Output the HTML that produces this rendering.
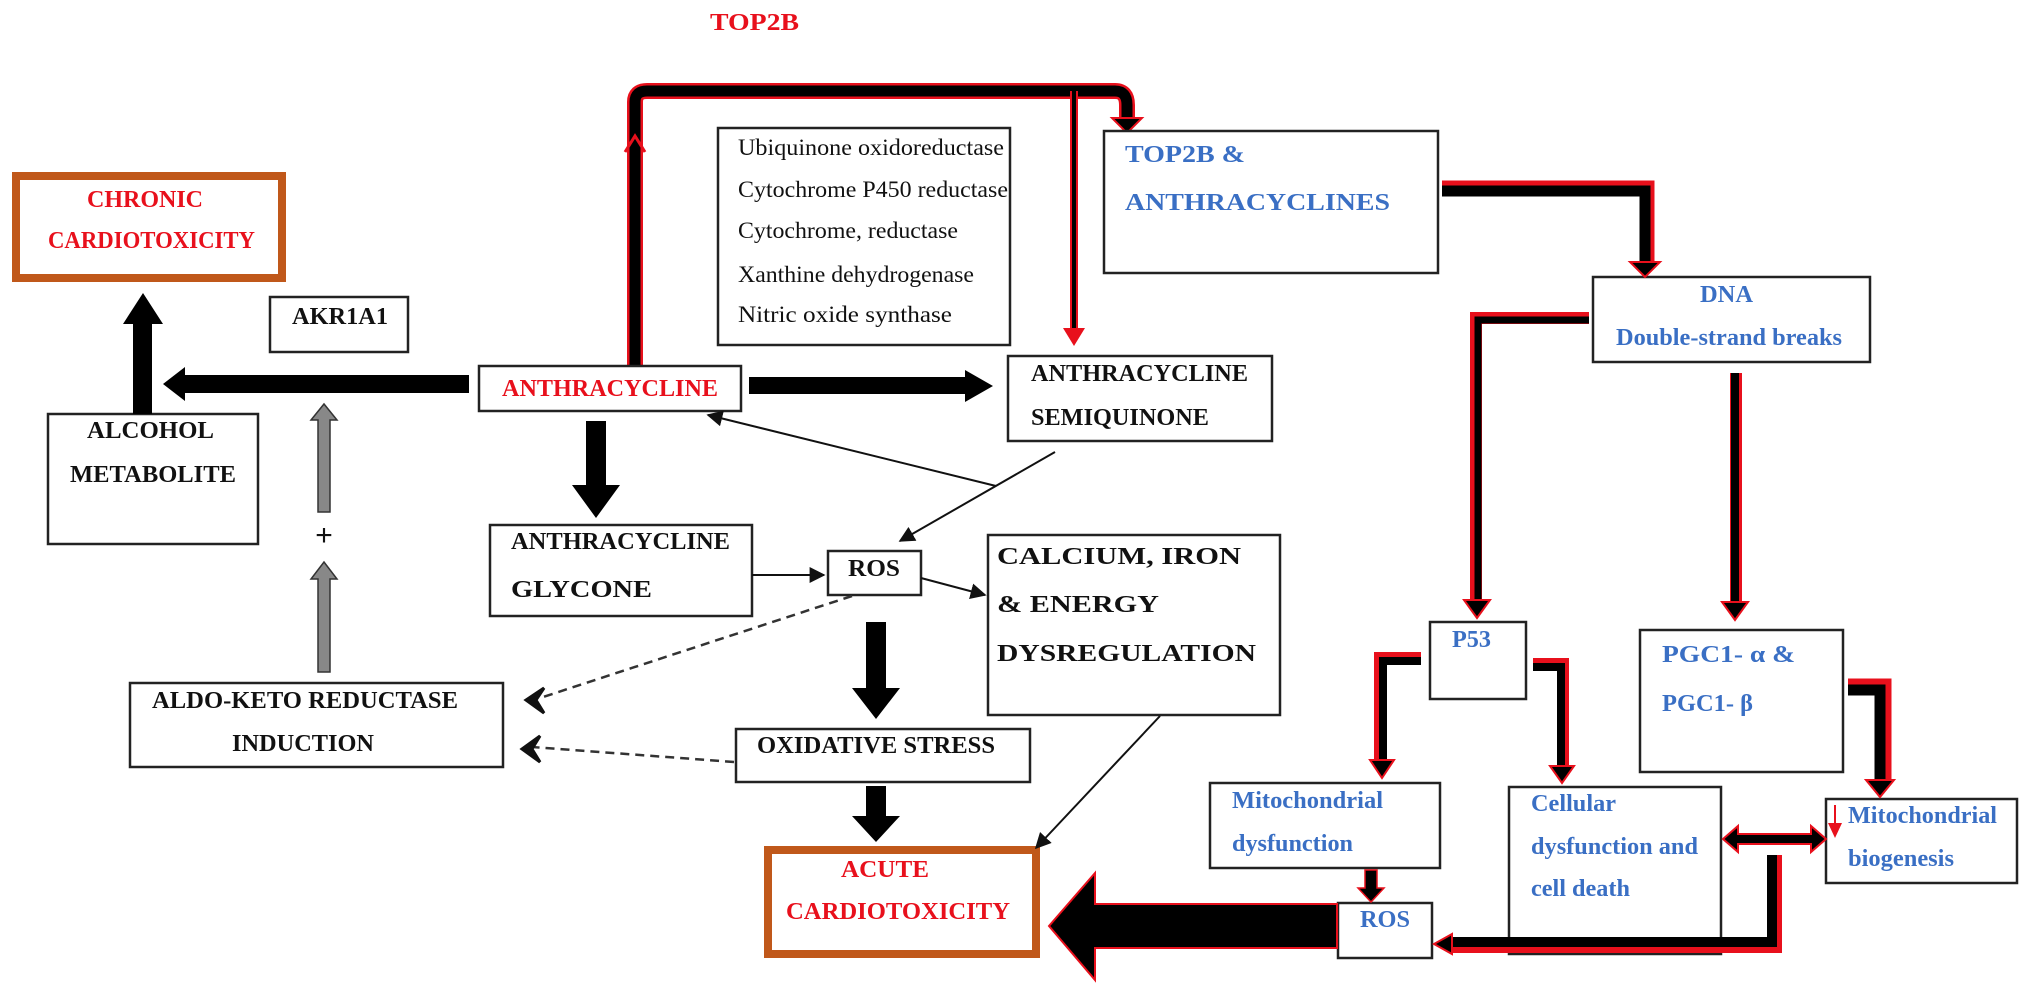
<!DOCTYPE html>
<html><head><meta charset="utf-8"><style>
html,body{margin:0;padding:0;background:#fff;}
svg{display:block;}
text{font-family:"Liberation Serif",serif;font-weight:bold;}
.b{fill:#111;font-size:24px;}
.r{fill:#e8101c;font-size:24px;}
.u{fill:#3a6fc4;font-size:24px;}
.e{fill:#111;font-size:23px;font-weight:normal;}
.box{fill:#fff;stroke:#222;stroke-width:2.5;}
.or{fill:#fff;stroke:#c0581a;stroke-width:8;}
</style></head><body>
<svg width="2031" height="984" viewBox="0 0 2031 984" xmlns="http://www.w3.org/2000/svg">
<defs>
<marker id="ta" viewBox="0 0 10 10" markerWidth="16" markerHeight="16" refX="9" refY="5" orient="auto" markerUnits="userSpaceOnUse"><path d="M0,0 L10,5 L0,10z" fill="#111"/></marker>
</defs>

<text x="710" y="30" class="r" textLength="89" lengthAdjust="spacingAndGlyphs">TOP2B</text>

<!-- top red loop -->
<path d="M635,367 V102 Q635,91 647,91 H1115 Q1127,91 1127,105 V118" fill="none" stroke="#e8101c" stroke-width="16"/>
<path d="M635,367 V102 Q635,91 647,91 H1115 Q1127,91 1127,105 V118" fill="none" stroke="#000" stroke-width="11"/>
<path d="M1112,118 L1142,118 L1127,133z" fill="#000" stroke="#e8101c" stroke-width="2"/>
<path d="M625,152 L635,136 L645,152" fill="none" stroke="#e8101c" stroke-width="3"/>
<line x1="1074" y1="91" x2="1074" y2="330" stroke="#e8101c" stroke-width="8"/>
<line x1="1074" y1="91" x2="1074" y2="330" stroke="#000" stroke-width="4"/>
<path d="M1063,328 L1085,328 L1074,346z" fill="#e8101c"/>

<!-- boxes -->
<rect x="16" y="176" width="266" height="102" class="or"/>
<text x="87" y="207" class="r" textLength="116" lengthAdjust="spacingAndGlyphs">CHRONIC</text>
<text x="48" y="248" class="r" textLength="207" lengthAdjust="spacingAndGlyphs">CARDIOTOXICITY</text>

<rect x="270" y="297" width="138" height="55" class="box"/>
<text x="292" y="324" class="b" textLength="96" lengthAdjust="spacingAndGlyphs">AKR1A1</text>

<rect x="48" y="414" width="210" height="130" class="box"/>
<text x="87" y="438" class="b" textLength="127" lengthAdjust="spacingAndGlyphs">ALCOHOL</text>
<text x="70" y="482" class="b" textLength="166" lengthAdjust="spacingAndGlyphs">METABOLITE</text>

<rect x="479" y="366" width="262" height="45" class="box"/>
<text x="502" y="396" class="r" fill="#c8141c" textLength="216" lengthAdjust="spacingAndGlyphs">ANTHRACYCLINE</text>

<rect x="718" y="128" width="292" height="217" class="box"/>
<text x="738" y="155" class="e" textLength="266" lengthAdjust="spacingAndGlyphs">Ubiquinone oxidoreductase</text>
<text x="738" y="197" class="e" textLength="270" lengthAdjust="spacingAndGlyphs">Cytochrome P450 reductase</text>
<text x="738" y="238" class="e" textLength="220" lengthAdjust="spacingAndGlyphs">Cytochrome, reductase</text>
<text x="738" y="282" class="e" textLength="236" lengthAdjust="spacingAndGlyphs">Xanthine dehydrogenase</text>
<text x="738" y="322" class="e" textLength="214" lengthAdjust="spacingAndGlyphs">Nitric oxide synthase</text>

<rect x="1008" y="356" width="264" height="85" class="box"/>
<text x="1031" y="381" class="b" textLength="217" lengthAdjust="spacingAndGlyphs">ANTHRACYCLINE</text>
<text x="1031" y="425" class="b" textLength="178" lengthAdjust="spacingAndGlyphs">SEMIQUINONE</text>

<rect x="1104" y="131" width="334" height="142" class="box"/>
<text x="1125" y="162" class="u" textLength="120" lengthAdjust="spacingAndGlyphs">TOP2B &amp;</text>
<text x="1125" y="210" class="u" textLength="265" lengthAdjust="spacingAndGlyphs">ANTHRACYCLINES</text>

<rect x="1593" y="277" width="277" height="85" class="box"/>
<text x="1700" y="302" class="u" textLength="53" lengthAdjust="spacingAndGlyphs">DNA</text>
<text x="1616" y="345" class="u" textLength="226" lengthAdjust="spacingAndGlyphs">Double-strand breaks</text>

<rect x="490" y="525" width="262" height="91" class="box"/>
<text x="511" y="549" class="b" textLength="219" lengthAdjust="spacingAndGlyphs">ANTHRACYCLINE</text>
<text x="511" y="597" class="b" textLength="141" lengthAdjust="spacingAndGlyphs">GLYCONE</text>

<rect x="828" y="551" width="93" height="44" class="box"/>
<text x="848" y="576" class="b" textLength="52" lengthAdjust="spacingAndGlyphs">ROS</text>

<rect x="988" y="535" width="292" height="180" class="box"/>
<text x="997" y="564" class="b" textLength="244" lengthAdjust="spacingAndGlyphs">CALCIUM, IRON</text>
<text x="997" y="612" class="b" textLength="162" lengthAdjust="spacingAndGlyphs">&amp; ENERGY</text>
<text x="997" y="661" class="b" textLength="259" lengthAdjust="spacingAndGlyphs">DYSREGULATION</text>

<rect x="130" y="683" width="373" height="84" class="box"/>
<text x="152" y="708" class="b" textLength="306" lengthAdjust="spacingAndGlyphs">ALDO-KETO REDUCTASE</text>
<text x="232" y="751" class="b" textLength="142" lengthAdjust="spacingAndGlyphs">INDUCTION</text>

<rect x="736" y="729" width="294" height="53" class="box"/>
<text x="757" y="753" class="b" textLength="238" lengthAdjust="spacingAndGlyphs">OXIDATIVE STRESS</text>

<rect x="768" y="850" width="268" height="104" class="or"/>
<text x="841" y="877" class="r" textLength="88" lengthAdjust="spacingAndGlyphs">ACUTE</text>
<text x="786" y="919" class="r" textLength="224" lengthAdjust="spacingAndGlyphs">CARDIOTOXICITY</text>

<rect x="1430" y="622" width="96" height="77" class="box"/>
<text x="1452" y="647" class="u" textLength="39" lengthAdjust="spacingAndGlyphs">P53</text>

<rect x="1640" y="630" width="203" height="142" class="box"/>
<text x="1662" y="662" class="u" textLength="133" lengthAdjust="spacingAndGlyphs">PGC1- α &amp;</text>
<text x="1662" y="711" class="u" textLength="91" lengthAdjust="spacingAndGlyphs">PGC1- β</text>

<rect x="1210" y="783" width="230" height="85" class="box"/>
<text x="1232" y="808" class="u" textLength="151" lengthAdjust="spacingAndGlyphs">Mitochondrial</text>
<text x="1232" y="851" class="u" textLength="121" lengthAdjust="spacingAndGlyphs">dysfunction</text>

<rect x="1509" y="787" width="212" height="167" class="box"/>
<text x="1531" y="811" class="u" textLength="85" lengthAdjust="spacingAndGlyphs">Cellular</text>
<text x="1531" y="854" class="u" textLength="167" lengthAdjust="spacingAndGlyphs">dysfunction and</text>
<text x="1531" y="896" class="u" textLength="99" lengthAdjust="spacingAndGlyphs">cell death</text>

<rect x="1826" y="799" width="191" height="84" class="box"/>
<text x="1848" y="823" class="u" textLength="149" lengthAdjust="spacingAndGlyphs">Mitochondrial</text>
<text x="1848" y="866" class="u" textLength="106" lengthAdjust="spacingAndGlyphs">biogenesis</text>
<line x1="1835" y1="805" x2="1835" y2="825" stroke="#e8101c" stroke-width="2"/>
<path d="M1828,823 L1842,823 L1835,838z" fill="#e8101c"/>

<rect x="1338" y="903" width="94" height="55" class="box"/>
<text x="1360" y="927" class="u" textLength="50" lengthAdjust="spacingAndGlyphs">ROS</text>

<!-- black thick arrows -->
<path d="M469,375 H185 V367 L163,384 L185,401 V393 H469z" fill="#000"/>
<rect x="133" y="322" width="19" height="92" fill="#000"/>
<path d="M123,324 L143,293 L163,324z" fill="#000"/>
<path d="M749,377 H965 V370 L993,386 L965,402 V394 H749z" fill="#000"/>
<path d="M586,421 H606 V485 H620 L596,518 L572,485 H586z" fill="#000"/>
<path d="M866,622 H886 V688 H900 L876,719 L852,688 H866z" fill="#000"/>
<path d="M866,786 H886 V816 H900 L876,842 L852,816 H866z" fill="#000"/>

<!-- gray arrows -->
<path d="M318,512 V420 H311 L324,404 L337,420 H330 V512z" fill="#888" stroke="#333" stroke-width="1.5"/>
<path d="M318,672 V579 H311 L324,562 L337,579 H330 V672z" fill="#888" stroke="#333" stroke-width="1.5"/>
<text x="324" y="545" text-anchor="middle" style="font-family:'Liberation Sans',sans-serif;font-size:30px;font-weight:normal" fill="#111">+</text>

<!-- thin arrows -->
<line x1="752" y1="575" x2="824" y2="575" stroke="#111" stroke-width="2" marker-end="url(#ta)"/>
<line x1="921" y1="578" x2="985" y2="595" stroke="#111" stroke-width="2" marker-end="url(#ta)"/>
<line x1="1055" y1="452" x2="900" y2="541" stroke="#111" stroke-width="2" marker-end="url(#ta)"/>
<line x1="996" y1="486" x2="708" y2="415" stroke="#111" stroke-width="2" marker-end="url(#ta)"/>
<line x1="1160" y1="716" x2="1036" y2="848" stroke="#111" stroke-width="2" marker-end="url(#ta)"/>

<!-- dashed -->
<line x1="852" y1="596" x2="540" y2="698" stroke="#333" stroke-width="2.5" stroke-dasharray="9,6"/>
<path d="M544,688 L526,700 L544,713 L536,700z" fill="#111" stroke="#111" stroke-width="3"/>
<line x1="734" y1="762" x2="532" y2="747" stroke="#333" stroke-width="2.5" stroke-dasharray="9,6"/>
<path d="M540,736 L522,749 L540,762 L532,749z" fill="#111" stroke="#111" stroke-width="3"/>

<!-- red-black connectors right -->
<g fill="none" stroke-linejoin="miter">
<path d="M1442,188 H1647 V262" stroke="#e8101c" stroke-width="15"/>
<path d="M1442,191 H1645 V262" stroke="#000" stroke-width="11"/>
<path d="M1589,318 H1476 V600" stroke="#e8101c" stroke-width="12"/>
<path d="M1589,320 H1478 V600" stroke="#000" stroke-width="7"/>
<path d="M1736,373 V602" stroke="#e8101c" stroke-width="12"/>
<path d="M1735,373 V602" stroke="#000" stroke-width="8"/>
<path d="M1421,658 H1380 V760" stroke="#e8101c" stroke-width="12"/>
<path d="M1421,661 H1383 V760" stroke="#000" stroke-width="8"/>
<path d="M1533,664 H1563 V766" stroke="#e8101c" stroke-width="12"/>
<path d="M1533,667 H1561 V766" stroke="#000" stroke-width="8"/>
<path d="M1848,686 H1884 V780" stroke="#e8101c" stroke-width="15"/>
<path d="M1848,690 H1880 V780" stroke="#000" stroke-width="11"/>
<path d="M1775,855 V946 H1450" stroke="#e8101c" stroke-width="14"/>
<path d="M1772,855 V942 H1450" stroke="#000" stroke-width="10"/>
</g>
<path d="M1630,262 L1660,262 L1645,277z" fill="#000" stroke="#e8101c" stroke-width="2"/>
<path d="M1464,600 L1490,600 L1477,618z" fill="#000" stroke="#e8101c" stroke-width="2"/>
<path d="M1722,602 L1748,602 L1735,620z" fill="#000" stroke="#e8101c" stroke-width="2"/>
<path d="M1370,760 L1394,760 L1382,778z" fill="#000" stroke="#e8101c" stroke-width="2"/>
<path d="M1550,766 L1574,766 L1562,783z" fill="#000" stroke="#e8101c" stroke-width="2"/>
<path d="M1866,780 L1894,780 L1880,797z" fill="#000" stroke="#e8101c" stroke-width="2"/>
<path d="M1452,934 L1434,944 L1452,954z" fill="#000" stroke="#e8101c" stroke-width="2"/>
<!-- double arrow -->
<path d="M1723,839 L1738,826 V834 H1811 V826 L1826,839 L1811,852 V844 H1738 V852z" fill="#000" stroke="#e8101c" stroke-width="2"/>
<!-- mito dys -> ROS -->
<path d="M1365,870 H1377 V888 H1384 L1371,902 L1358,888 H1365z" fill="#000" stroke="#e8101c" stroke-width="1.5"/>
<!-- big left arrow -->
<path d="M1337,904 H1095 V873 L1049,926 L1095,980 V948 H1337z" fill="#000" stroke="#e8101c" stroke-width="2"/>
</svg>
</body></html>
